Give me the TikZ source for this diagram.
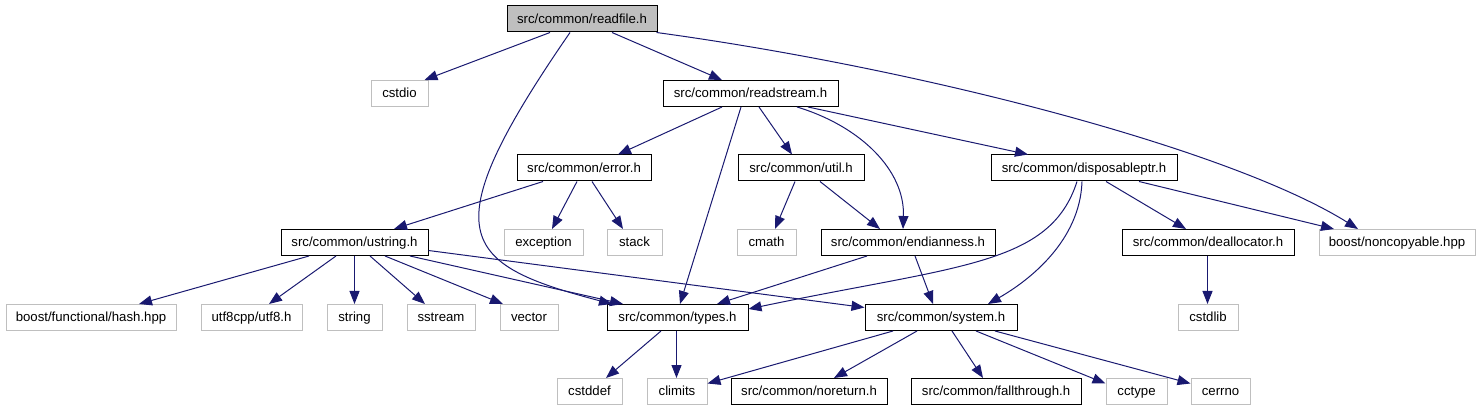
\documentclass[tikz,border=0pt]{standalone}
\usepackage{fontspec}
\setmainfont{Liberation Sans}
\usetikzlibrary{arrows.meta}
\definecolor{edgeblue}{HTML}{191970}
\definecolor{nodoc}{HTML}{BFBFBF}
\begin{document}
\begin{tikzpicture}[x=1pt,y=-1pt,
  box/.style={draw=black,line width=1pt,fill=white,minimum height=26pt,inner sep=0pt,
    text height=9.5pt,text depth=1.1pt,font=\fontsize{13.2}{15}\selectfont},
  gbox/.style={box,draw=nodoc},
  edge/.style={draw=edgeblue,line width=1pt,-{Triangle[length=13pt,width=10pt]}},
]
\useasboundingbox (0,0) rectangle (1479,411);
% row 0
\node[box,fill=nodoc,minimum width=150pt] (rf) at (582,19) {src/common/readfile.h};
% row 1
\node[gbox,minimum width=57pt] (cstdio) at (399.5,93.5) {cstdio};
\node[box,minimum width=175pt] (rs) at (750.5,93.5) {src/common/readstream.h};
% row 2
\node[box,minimum width=134pt] (err) at (584,168) {src/common/error.h};
\node[box,minimum width=126pt] (util) at (801,168) {src/common/util.h};
\node[box,minimum width=186pt] (disp) at (1084,168) {src/common/disposableptr.h};
% row 3
\node[box,minimum width=147pt] (us) at (354.5,242.5) {src/common/ustring.h};
\node[gbox,minimum width=79pt] (exc) at (543.5,242.5) {exception};
\node[gbox,minimum width=55pt] (stack) at (634.5,242.5) {stack};
\node[gbox,minimum width=59pt] (cmath) at (766.5,242.5) {cmath};
\node[box,minimum width=174pt] (endian) at (908,242.5) {src/common/endianness.h};
\node[box,minimum width=172pt] (dealloc) at (1208,242.5) {src/common/deallocator.h};
\node[gbox,minimum width=156pt] (noncop) at (1397,242.5) {boost/noncopyable.hpp};
% row 4
\node[gbox,minimum width=170pt] (hash) at (91,317.5) {boost/functional/hash.hpp};
\node[gbox,minimum width=101pt] (utf8) at (251.5,317.5) {utf8cpp/utf8.h};
\node[gbox,minimum width=55pt] (string) at (354.5,317.5) {string};
\node[gbox,minimum width=68pt] (sstream) at (441,317.5) {sstream};
\node[gbox,minimum width=58pt] (vector) at (529,317.5) {vector};
\node[box,minimum width=141pt] (types) at (677.5,317.5) {src/common/types.h};
\node[box,minimum width=152pt] (system) at (941,317.5) {src/common/system.h};
\node[gbox,minimum width=60pt] (cstdlib) at (1208,317.5) {cstdlib};
% row 5
\node[gbox,minimum width=65pt] (cstddef) at (589.5,391.5) {cstddef};
\node[gbox,minimum width=60pt] (climits) at (677,391.5) {climits};
\node[box,minimum width=156pt] (noreturn) at (809,391.5) {src/common/noreturn.h};
\node[box,minimum width=170pt] (fall) at (996,391.5) {src/common/fallthrough.h};
\node[gbox,minimum width=61pt] (cctype) at (1136.5,391.5) {cctype};
\node[gbox,minimum width=59pt] (cerrno) at (1220.5,391.5) {cerrno};
% edges from readfile
\draw[edge] ([xshift=-32pt]rf.south) -- ([xshift=25pt]cstdio.north);
\draw[edge] ([xshift=-12pt]rf.south) .. controls +(-140,203) and +(-152,-40) .. ([xshift=-65.5pt]types.north);
\draw[edge] ([xshift=30pt]rf.south) -- ([xshift=-28.5pt]rs.north);
\draw[edge] ([xshift=-1pt]rf.south east) .. controls +(264,36) and +(-128,-80) .. ([xshift=-39pt]noncop.north);
% readstream
\draw[edge] ([xshift=-28.5pt]rs.south) -- ([xshift=34pt]err.north);
\draw[edge] ([xshift=-9.5pt]rs.south) -- ([xshift=2.5pt]types.north);
\draw[edge] ([xshift=8.5pt]rs.south) -- ([xshift=-9pt]util.north);
\draw[edge] ([xshift=46.5pt]rs.south) .. controls +(63,19) and +(2,-59) .. ([xshift=-5pt]endian.north);
\draw[edge] ([xshift=57.5pt]rs.south) -- ([xshift=-56pt]disp.north);
% error
\draw[edge] ([xshift=-41pt]err.south) -- ([xshift=39.5pt]us.north);
\draw[edge] ([xshift=-7pt]err.south) -- ([xshift=8.5pt]exc.north);
\draw[edge] ([xshift=8pt]err.south) -- ([xshift=-11.5pt]stack.north);
% util
\draw[edge] ([xshift=-6pt]util.south) -- ([xshift=8.5pt]cmath.north);
\draw[edge] ([xshift=19pt]util.south) -- ([xshift=-28pt]endian.north);
% disposableptr
\draw[edge] ([xshift=-7pt]disp.south) .. controls +(-27,84) and +(211,-44) .. ([yshift=8.5pt]types.east);
\draw[edge] ([xshift=-2pt]disp.south) .. controls +(-2,59) and +(42,-24) .. ([xshift=47pt]system.north);
\draw[edge] ([xshift=22pt]disp.south) -- ([xshift=-22pt]dealloc.north);
\draw[edge] ([xshift=55pt]disp.south) -- ([xshift=-63pt]noncop.north);
% ustring
\draw[edge] ([xshift=-45.5pt]us.south) -- ([xshift=48pt]hash.north);
\draw[edge] ([xshift=-18.5pt]us.south) -- ([xshift=17.5pt]utf8.north);
\draw[edge] (us.south) -- (string.north);
\draw[edge] ([xshift=15.5pt]us.south) -- ([xshift=-16pt]sstream.north);
\draw[edge] ([xshift=30.5pt]us.south) -- ([xshift=-26pt]vector.north);
\draw[edge] ([xshift=55.5pt]us.south) -- ([xshift=-54.5pt]types.north);
\draw[edge] ([yshift=-8pt]us.east) -- ([yshift=10pt]system.west);
% endianness
\draw[edge] ([xshift=-41pt]endian.south) -- ([xshift=39.5pt]types.north);
\draw[edge] ([xshift=7pt]endian.south) -- ([xshift=-8pt]system.north);
% deallocator
\draw[edge] ([xshift=-0.5pt]dealloc.south) -- ([xshift=-0.5pt]cstdlib.north);
% types
\draw[edge] ([xshift=-16.5pt]types.south) -- ([xshift=16.5pt]cstddef.north);
\draw[edge] ([xshift=-1pt]types.south) -- ([xshift=-0.5pt]climits.north);
% system
\draw[edge] ([xshift=-48pt]system.south) -- ([yshift=8pt]climits.east);
\draw[edge] ([xshift=-24pt]system.south) -- ([xshift=25pt]noreturn.north);
\draw[edge] ([xshift=11pt]system.south) -- ([xshift=-13pt]fall.north);
\draw[edge] ([xshift=35pt]system.south) -- ([yshift=8pt]cctype.west);
\draw[edge] ([xshift=54pt]system.south) -- ([yshift=8pt]cerrno.west);
\end{tikzpicture}
\end{document}
